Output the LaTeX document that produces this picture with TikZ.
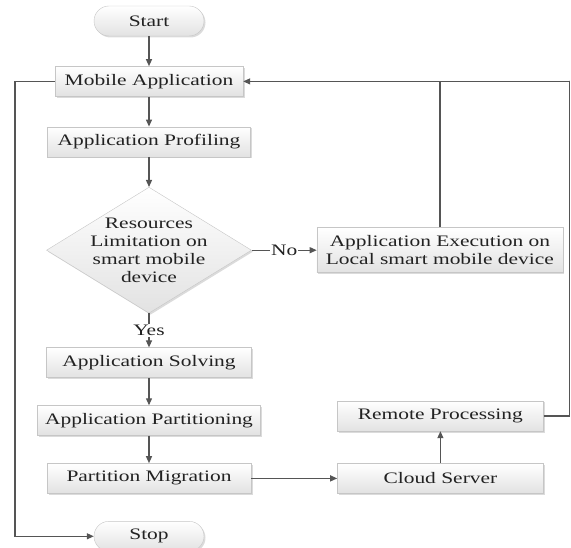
\documentclass[tikz,border=0pt]{standalone}
\usepackage{fontspec}
\setmainfont{Liberation Serif}[FakeStretch=1.34]
\usetikzlibrary{arrows.meta,positioning,shapes.geometric,shadows}
\usepackage{xcolor}

\definecolor{linegray}{HTML}{555555}
\definecolor{boxedge}{HTML}{C6C6C6}
\definecolor{boxfill}{HTML}{E2E2E2}
\definecolor{txtgray}{HTML}{222222}

\tikzset{
  procbox/.style={draw=boxedge,top color=white,bottom color=boxfill,text=txtgray,
    drop shadow={shadow xshift=1.5pt,shadow yshift=-1.5pt,fill=black!40,opacity=.35},
    minimum height=30pt,inner sep=0pt,align=center},
  termbox/.style={procbox,rounded corners=15pt,minimum width=110pt},
  decbox/.style={procbox,diamond,minimum width=205pt,minimum height=126pt},
  flow/.style={draw=linegray,line width=1.2pt,-{Triangle[length=7pt,width=6pt]}},
  link/.style={draw=linegray,line width=1.2pt},
  tag/.style={fill=white,inner sep=1pt,text=txtgray}
}

\begin{document}
\begin{tikzpicture}[x=1pt,y=1pt,node distance=30pt,font=\fontsize{16}{18}\selectfont]
  \useasboundingbox (0,0) rectangle (571,-548);
  % main column
  \node (start) [termbox] at (149,-21) {Start};
  \node (mobapp) [procbox,minimum width=188pt,below=of start] {Mobile Application};
  \node (profil) [procbox,minimum width=203pt,below=of mobapp] {Application Profiling};
  \node (limit) [decbox,below=of profil,
    label={[align=center,text=txtgray]center:Resources\\Limitation on\\smart mobile\\device}] {};
  \node (solve) [procbox,minimum width=205pt,below=34pt of limit] {Application Solving};
  \node (partit) [procbox,minimum width=223pt,below=27.5pt of solve] {Application Partitioning};
  \node (migrat) [procbox,minimum width=204pt,below=27.5pt of partit] {Partition Migration};
  \node (stop) [termbox,below=27.5pt of migrat] {Stop};
  % right side
  \node (local) [procbox,minimum width=246pt,minimum height=45pt,right=65pt of limit]
    {Application Execution on\\Local smart mobile device};
  \node (cloud) [procbox,minimum width=206pt,right=86pt of migrat] {Cloud Server};
  \node (remote) [procbox,minimum width=206pt,above=32pt of cloud] {Remote Processing};
  \coordinate (rcorner) at (569.5,-81);
  \coordinate (lcorner) at (15,-300);

  \draw[flow] (start) -- (mobapp);
  \draw[flow] (mobapp) -- (profil);
  \draw[flow] (profil) -- (limit);
  \draw[flow] (limit.south) -- node[tag] {Yes} (solve);
  \draw[flow] (limit.east) -- node[tag] {No} (local);
  \draw[flow] (solve) -- (partit);
  \draw[flow] (partit) -- (migrat);
  \draw[flow] (migrat) -- (cloud);
  \draw[flow] (cloud) -- (remote);
  \draw[flow] (remote.east) -| (rcorner) |- (mobapp.east);
  \draw[link] (local.north) -- (local.north |- mobapp.east);
  \draw[flow] (mobapp.west) -| (lcorner) |- (stop.west);
\end{tikzpicture}
\end{document}
